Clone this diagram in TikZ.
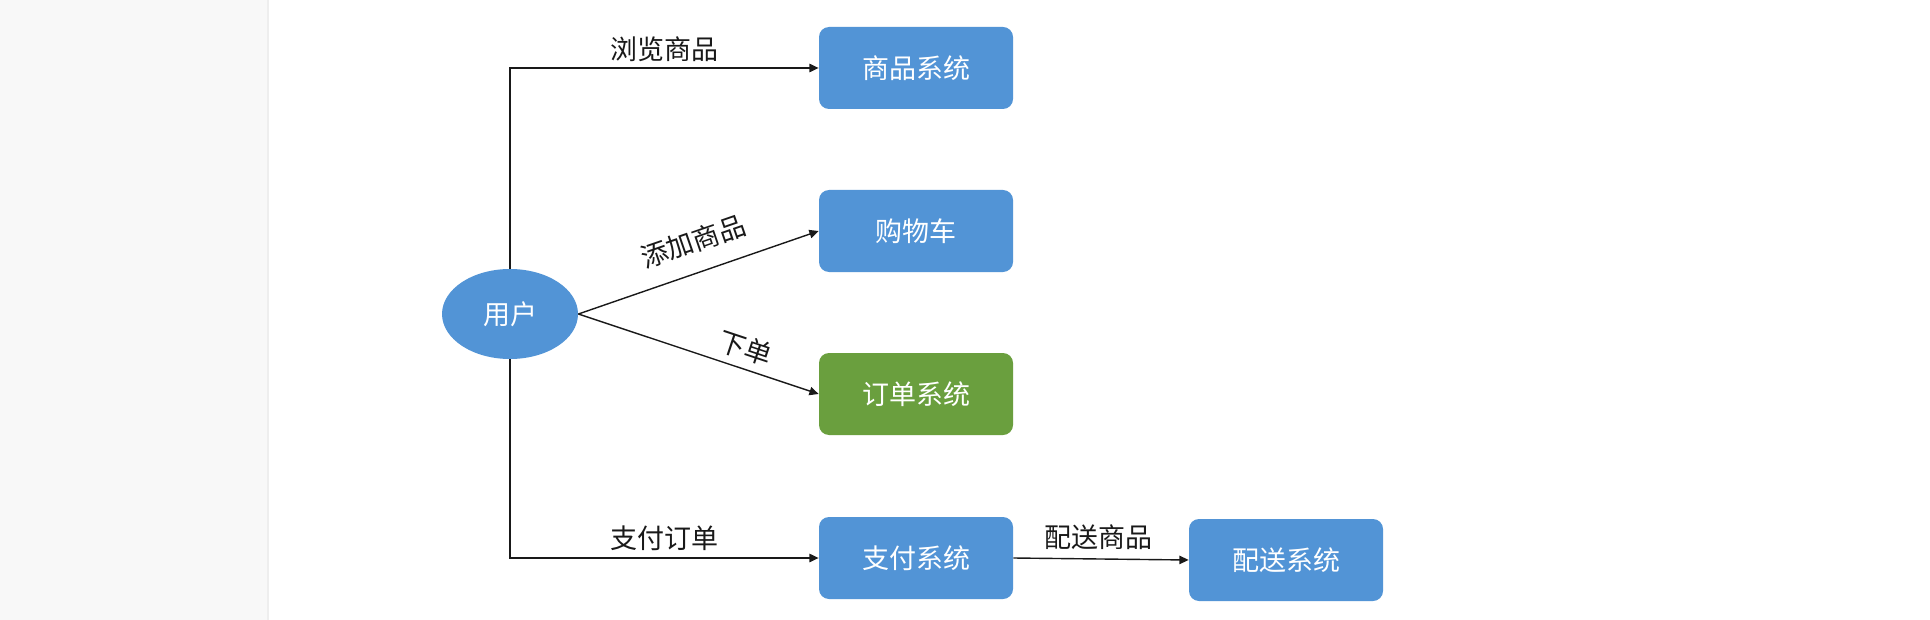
\documentclass[tikz,border=0pt]{standalone}
\usepackage{fontspec}
\newfontfamily\cjk{Noto Sans CJK SC}
\usetikzlibrary{shapes.geometric,arrows.meta}
\definecolor{boxblue}{RGB}{82,148,214}
\definecolor{boxgreen}{RGB}{106,159,62}
\definecolor{stripgray}{RGB}{248,248,248}
\definecolor{stripedge}{RGB}{238,238,238}
\tikzset{
  sysbox/.style={draw=none, fill=boxblue, rounded corners=5pt, minimum width=97pt, minimum height=41pt, inner sep=0pt, text=white, font=\cjk\fontsize{13.5pt}{16pt}\selectfont},
  userell/.style={ellipse, draw=none, fill=boxblue, minimum width=68pt, minimum height=45pt, inner sep=0pt, text=white, font=\cjk\fontsize{13.5pt}{16pt}\selectfont},
  arr/.style={draw=black!90, line width=0.7pt, -{Triangle[length=4.6pt,width=4.2pt]}},
  lbl/.style={inner sep=0pt, text=black!90, font=\cjk\fontsize{13.5pt}{16pt}\selectfont}
}
\begin{document}
\begin{tikzpicture}[x=0.5pt,y=-0.5pt]
\useasboundingbox (0,0) rectangle (1930,620);
\fill[white] (0,0) rectangle (1930,620);
\fill[stripgray] (0,0) rectangle (268,620);
\draw[stripedge, line width=1pt] (268,0) -- (268,620);

\node[userell] (user) at (510,314) {用户};
\node[sysbox] (sp) at (916,68) {商品系统};
\node[sysbox] (cart) at (916,231) {购物车};
\node[sysbox, fill=boxgreen] (order) at (916,394) {订单系统};
\node[sysbox] (pay) at (916,558) {支付系统};
\node[sysbox] (ship) at (1286,560) {配送系统};

\draw[arr] (user.north) |- (sp.west) node[lbl, pos=0.75, above=3pt] {浏览商品};
\draw[arr] (user.east) -- (cart.west) node[lbl, pos=0.52, sloped, above=9pt] {添加商品};
\draw[arr] (user.east) -- (order.west) node[lbl, pos=0.67, sloped, above=3.7pt] {下单};
\draw[arr] (user.south) |- (pay.west) node[lbl, pos=0.75, above=3.2pt] {支付订单};
\draw[arr] (pay.east) -- (ship.west) node[lbl, pos=0.486, above=4.2pt] {配送商品};
\end{tikzpicture}
\end{document}
